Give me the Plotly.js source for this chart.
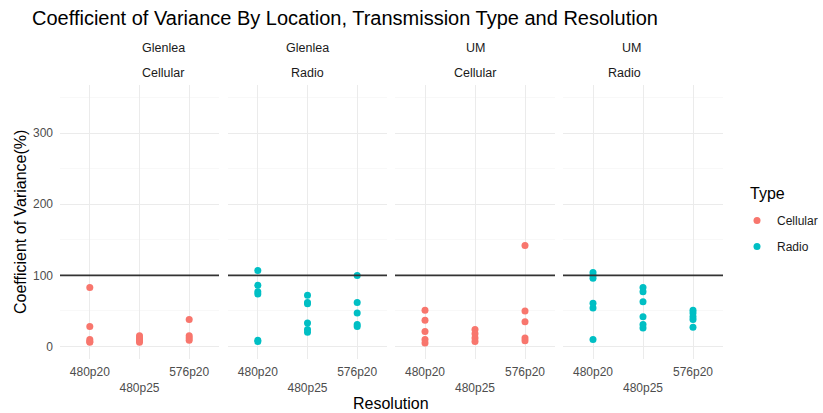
<!DOCTYPE html>
<html>
<head>
<meta charset="utf-8">
<script src="https://cdn.plot.ly/plotly-3.0.1.min.js"></script>
<style>html,body{margin:0;padding:0;background:#fff;}#chart{width:823px;height:413px;}</style>
</head>
<body>
<div id="chart"></div>
<script>
// ---- data ----
const resolutions = ["480p20", "480p25", "576p20"];
const tickLabels = ["480p20", "<br>480p25", "576p20"];
const locations = ["Glenlea", "Glenlea", "UM", "UM"];
const transmissions = ["Cellular", "Radio", "Cellular", "Radio"];
const typeNames = ["Cellular", "Radio"];
const typeColors = ["#F8766D", "#00BFC4"];
const refLine = 100;

// panel 1: Glenlea / Cellular
const glCellRes = ["480p20","480p20","480p20","480p20","480p20",
                   "480p25","480p25","480p25","480p25","480p25",
                   "576p20","576p20","576p20","576p20"];
const glCellCV  = [83, 28, 10, 7, 6,
                   15, 12, 10, 8, 6,
                   38, 15, 12, 9];
// panel 2: Glenlea / Radio
const glRadRes = ["480p20","480p20","480p20","480p20","480p20","480p20",
                  "480p25","480p25","480p25","480p25","480p25","480p25",
                  "576p20","576p20","576p20","576p20","576p20"];
const glRadCV  = [107, 86, 77, 74, 9, 7,
                  72, 62, 60, 33, 24, 20,
                  100, 62, 47, 31, 28];
// panel 3: UM / Cellular
const umCellRes = ["480p20","480p20","480p20","480p20","480p20",
                   "480p25","480p25","480p25","480p25",
                   "576p20","576p20","576p20","576p20","576p20"];
const umCellCV  = [51, 37, 21, 10, 5,
                   24, 18, 12, 7,
                   142, 50, 35, 12, 8];
// panel 4: UM / Radio
const umRadRes = ["480p20","480p20","480p20","480p20","480p20","480p20",
                  "480p25","480p25","480p25","480p25","480p25","480p25",
                  "576p20","576p20","576p20","576p20","576p20"];
const umRadCV  = [104, 100, 96, 61, 54, 10,
                  83, 77, 63, 42, 31, 26,
                  51, 47, 42, 38, 27];

const panels = [
  {res: glCellRes, cv: glCellCV, type: 0},
  {res: glRadRes,  cv: glRadCV,  type: 1},
  {res: umCellRes, cv: umCellCV, type: 0},
  {res: umRadRes,  cv: umRadCV,  type: 1}
];

// ---- layout geometry (pixels) ----
const W = 823, H = 413;
const L = 60, R = 723, T = 85, B = 359;
const PW = R - L, PH = B - T;
const px = [[60,219],[228,387],[395,555],[563,723]];
const fx = v => (v - L) / PW;        // pixel x -> paper x
const fy = v => (B - v) / PH;        // pixel y -> paper y

const traces = [];
const shownLegend = {};
panels.forEach((p, i) => {
  const ax = i === 0 ? "" : String(i + 1);
  const t = p.type;
  traces.push({
    type: "scatter", mode: "markers",
    x: p.res, y: p.cv,
    xaxis: "x" + ax, yaxis: "y" + ax,
    name: typeNames[t], legendgroup: typeNames[t],
    legendrank: t + 1,
    showlegend: !shownLegend[t],
    marker: {color: typeColors[t], size: 7, line: {width: 0}},
    hoverinfo: "x+y"
  });
  shownLegend[t] = true;
});

const layout = {
  width: W, height: H,
  margin: {l: L, r: W - R, t: T, b: H - B, autoexpand: false},
  paper_bgcolor: "#fff", plot_bgcolor: "rgba(0,0,0,0)",
  font: {family: "Liberation Sans, Arial, sans-serif", color: "#4D4D4D", size: 12},
  title: {text: "Coefficient of Variance By Location, Transmission Type and Resolution",
          xref: "container", yref: "container",
          x: 32/W, xanchor: "left", y: 1 - 18/H, yanchor: "middle",
          font: {size: 20, color: "#000"}},
  showlegend: true,
  legend: {x: fx(737), xanchor: "left", y: fy(206), yanchor: "top",
           font: {size: 12, color: "#1A1A1A"}, itemsizing: "trace", itemwidth: 30,
           tracegroupgap: 7, bgcolor: "rgba(0,0,0,0)"},
  annotations: [], shapes: []
};

panels.forEach((p, i) => {
  const ax = i === 0 ? "" : String(i + 1);
  layout["xaxis" + ax] = {
    domain: [fx(px[i][0]), fx(px[i][1])], anchor: "y" + ax,
    type: "category", categoryorder: "array", categoryarray: resolutions,
    range: [-0.6, 2.6], tickmode: "array", tickvals: resolutions, ticktext: tickLabels,
    showgrid: true, gridcolor: "#EBEBEB", gridwidth: 1, zeroline: false, showline: false,
    ticks: "", ticklabelstandoff: 4, tickfont: {size: 12, color: "#4D4D4D"},
    automargin: false, fixedrange: true
  };
  layout["yaxis" + ax] = {
    domain: [0, 1], anchor: "x" + ax,
    range: [-17.5, 367.5], tickmode: "linear", tick0: 0, dtick: 100,
    showticklabels: i === 0, ticks: "", ticklabelstandoff: 6,
    tickfont: {size: 12, color: "#4D4D4D"},
    showgrid: true, gridcolor: "#EBEBEB", gridwidth: 1, zeroline: false, showline: false,
    minor: {tick0: 50, dtick: 100, showgrid: true, gridcolor: "#F3F3F3", gridwidth: 0.6},
    automargin: false, fixedrange: true
  };
  if (i > 0) layout["yaxis" + ax].matches = "y";
  const cx = fx((px[i][0] + px[i][1]) / 2);
  layout.annotations.push({text: locations[i], xref: "paper", yref: "paper",
    x: cx, y: fy(48), yanchor: "middle", showarrow: false, font: {size: 12.5, color: "#1A1A1A"}});
  layout.annotations.push({text: transmissions[i], xref: "paper", yref: "paper",
    x: cx, y: fy(73), yanchor: "middle", showarrow: false, font: {size: 12.5, color: "#1A1A1A"}});
  layout.shapes.push({type: "line", xref: "x" + ax + " domain", yref: "y" + ax,
    x0: 0, x1: 1, y0: refLine, y1: refLine, line: {color: "#333333", width: 1.6},
    layer: "above"});
});
layout.annotations.push({text: "Coefficient of Variance(%)", xref: "paper", yref: "paper",
  x: fx(20), y: fy(222), textangle: -90, xanchor: "center", yanchor: "middle",
  showarrow: false, font: {size: 16, color: "#000"}});
layout.annotations.push({text: "Resolution", xref: "paper", yref: "paper",
  x: fx(391), y: fy(403), yanchor: "middle", showarrow: false, font: {size: 16, color: "#000"}});
layout.annotations.push({text: "Type", xref: "paper", yref: "paper",
  x: fx(748), xanchor: "left", y: fy(193), yanchor: "middle", showarrow: false,
  font: {size: 16, color: "#000"}});

Plotly.newPlot("chart", traces, layout, {displayModeBar: false, staticPlot: true});
</script>
</body>
</html>
